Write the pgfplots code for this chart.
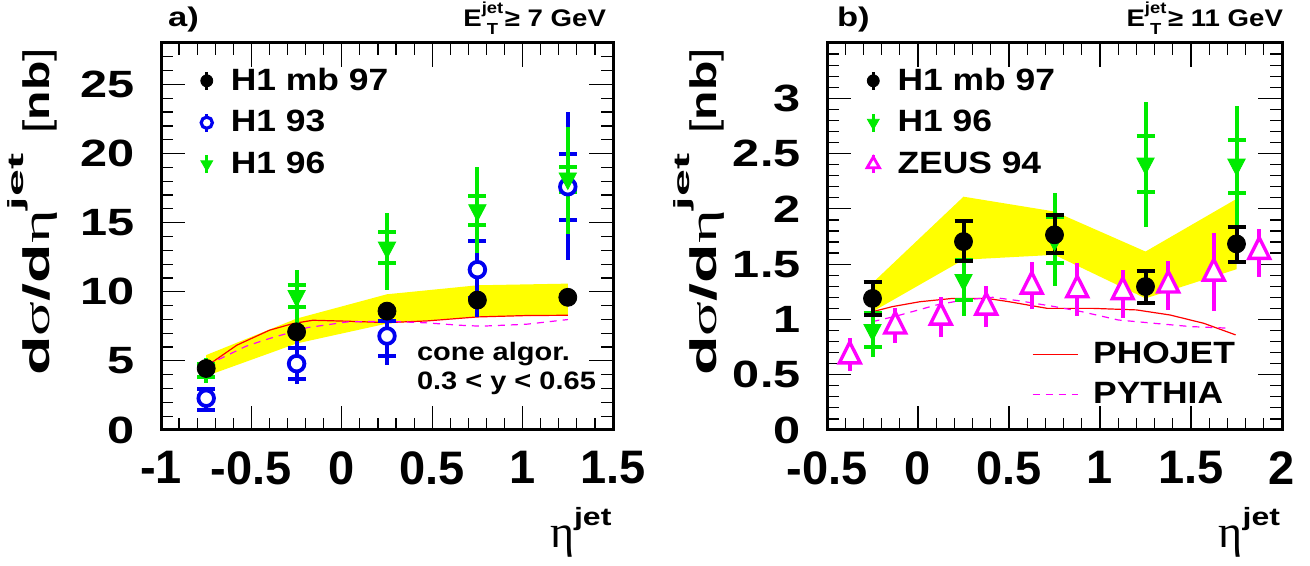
\documentclass[border=0pt]{standalone}
\usepackage{fontspec}
\setmainfont{Liberation Sans}
\newfontfamily\sfA{Liberation Sans}[FakeStretch=1.15]
\newfontfamily\sfB{Liberation Sans}[FakeStretch=1.28]
\newfontfamily\serifR{Liberation Serif}
\usepackage{pgfplots}
\usepackage{pgfplotstable}
\pgfplotsset{compat=1.18}
\definecolor{rgreen}{RGB}{0,235,0}
\definecolor{rblue}{RGB}{0,0,240}
\definecolor{rmag}{RGB}{255,0,255}
\definecolor{ryel}{RGB}{255,255,0}
\definecolor{rred}{RGB}{255,0,0}

\newcommand\xtfont{\bfseries\fontsize{23.5}{23.5}\selectfont}
\newcommand\ytfont{\sfB\bfseries\fontsize{19}{19}\selectfont}
\newcommand\legfont{\sfA\bfseries\fontsize{15.4}{15.4}\selectfont}
\newcommand\txtfont{\sfA\bfseries\fontsize{12.6}{12.6}\selectfont}
\newcommand\ttlfont{\sfA\bfseries\fontsize{12}{12}\selectfont}
\newcommand\ylab{\bfseries\fontsize{18.5}{18.5}\selectfont\scalebox{1.75}[1]{d{\serifR\mdseries σ}/d{\serifR\mdseries η}}\raisebox{13.5pt}{\scalebox{2.2}[1]{\fontsize{11}{11}\selectfont jet}}\hspace{10pt}\scalebox{1.3}[1]{{\mdseries[}nb{\mdseries]}}}
\newcommand\xlab{{\serifR\fontsize{23}{23}\selectfont η}\raisebox{11pt}{\sfB\bfseries\fontsize{12.5}{12.5}\selectfont jet}}
\newcommand\ettl[1]{\ttlfont E\raisebox{-3.8pt}{\fontsize{8}{8}\selectfont\shortstack[c]{jet\\[0.5pt]T}}\hspace{0.8pt}≥ #1 GeV}

\pgfplotsset{
  rootaxis/.style={scale only axis, height=193.5pt, clip=false,
    axis line style={line width=1.5pt},
    tick align=inside, xtick pos=both, ytick pos=both,
    major tick length=12pt, minor tick length=6pt,
    tick style={black, line width=0.6pt},
    xticklabel style={font=\xtfont, inner sep=0pt, yshift=-10.5pt},
    yticklabel style={font=\ytfont, inner sep=0pt, xshift=-13pt, anchor=east},
    legend cell align=left,
    legend style={draw=none, fill=none, inner sep=0pt, outer sep=0pt, font=\legfont,
      row sep=8.5pt, nodes={inner sep=0pt}, /tikz/every odd column/.append style={column sep=9pt}}},
  totbar/.style={only marks, mark=none, forget plot, error bars/.cd, y dir=both, y explicit,
    error mark=none, error bar style={line width=2pt, draw=#1, solid}},
  statbar/.style={only marks, mark=none, forget plot, error bars/.cd, y dir=both, y explicit,
    error mark=-, error bar style={line width=2pt, draw=#1, solid},
    error mark options={rotate=90, mark size=4.5pt, line width=2pt, draw=#1, solid}},
  ptleg/.style={legend image code/.code={%
    \draw[##1, mark=none, line width=1.6pt] (0pt,-4.5pt) -- (0pt,4.5pt);
    \draw[##1] plot coordinates {(0pt,0pt)};}},
  lnleg/.style={legend image code/.code={\draw[##1] (0pt,0pt) -- (22.5pt,0pt);}},
}

% ---------- panel a data ----------
\pgfplotstableread{
x y
-0.75 4.45
-0.25 7.10
0.25 8.60
0.75 9.40
1.25 9.60
}\mbA
\pgfplotstableread{
x y sp sm tp tm
-0.75 2.30 0.70 0.85 0.80 1.00
-0.25 4.80 1.10 1.10 1.70 1.50
0.25 6.80 1.10 1.45 1.50 2.10
0.75 11.60 2.05 2.05 3.40 3.40
1.25 17.60 2.40 2.40 5.40 5.30
}\hnA
\pgfplotstableread{
x y sp sm tp tm
-0.75 4.30 0.50 0.50 0.90 0.90
-0.25 9.70 0.80 0.80 1.90 1.95
0.25 13.20 1.10 1.10 2.50 3.10
0.75 15.90 1.05 1.05 3.10 3.10
1.25 18.20 0.80 1.00 3.70 4.00
}\hsA
% ---------- panel b data ----------
\pgfplotstableread{
x y sp sm
-0.25 1.190 0.152 0.150
0.25 1.704 0.190 0.180
0.75 1.765 0.180 0.165
1.25 1.297 0.143 0.150
1.75 1.683 0.157 0.160
}\mbB
\pgfplotstableread{
x y sp sm tp tm
-0.25 0.905 0.15 0.15 0.25 0.245
0.25 1.357 0.18 0.18 0.33 0.33
0.75 1.720 0.21 0.21 0.42 0.42
1.25 2.410 0.25 0.26 0.56 0.57
1.75 2.400 0.22 0.26 0.53 0.55
}\hsB
\pgfplotstableread{
x y tp tm
-0.375 0.670 0.160 0.140
-0.125 0.940 0.160 0.155
0.125 1.020 0.186 0.175
0.375 1.110 0.190 0.175
0.625 1.300 0.220 0.210
0.875 1.267 0.240 0.237
1.125 1.250 0.200 0.240
1.375 1.310 0.220 0.224
1.625 1.418 0.360 0.340
1.875 1.614 0.200 0.227
}\zsB

\begin{document}
\begin{tikzpicture}
\useasboundingbox (0,0) rectangle (655pt,283pt);
% ================= panel a =================
\begin{axis}[rootaxis, at={(80.5pt,68pt)}, anchor=south west, width=226pt,
  xmin=-1, xmax=1.5, ymin=0, ymax=28,
  xtick={-1,-0.5,0,0.5,1,1.5}, xticklabels={-1,-0.5,0,0.5,1,1.5},
  minor xtick={-0.9,-0.8,...,1.45},
  ytick={0,5,10,15,20,25}, yticklabels={0,5,10,15,20,25},
  minor ytick={1,2,...,27},
  legend style={at={(rel axis cs:0.088,0.935)}, anchor=north west}]
\addlegendimage{ptleg, black, mark=*, mark size=3pt}
\addlegendentry{H1 mb 97}
\addlegendimage{ptleg, rblue, mark=*, mark size=2.8pt, mark options={fill=white, draw=rblue, line width=1.6pt}}
\addlegendentry{H1 93}
\addlegendimage{ptleg, rgreen, mark=triangle*, mark size=3.4pt, mark options={rotate=180}}
\addlegendentry{H1 96}
% band
\addplot[fill=ryel, draw=none, forget plot] coordinates {(-0.75,5.42) (-0.25,8.06) (0.25,9.82) (0.75,10.47) (1.25,10.59) (1.25,8.28) (0.75,8.2) (0.25,7.7) (-0.25,6.26) (-0.75,3.9)} -- cycle;
% PHOJET
\addplot[rred, line width=0.6pt, mark=none, forget plot] coordinates {(-0.75,4.6) (-0.58,6.14) (-0.40,7.22) (-0.27,7.7) (-0.16,7.94) (0.03,7.87) (0.25,7.77) (0.47,7.89) (0.75,8.18) (1.02,8.28) (1.25,8.3)};
% PYTHIA
\addplot[rmag, line width=0.6pt, dash pattern=on 3.5pt off 3pt, mark=none, forget plot] coordinates {(-0.75,4.75) (-0.67,5.17) (-0.53,6.06) (-0.40,6.62) (-0.19,7.41) (0.03,7.82) (0.25,7.87) (0.47,7.75) (0.65,7.58) (0.77,7.51) (1.02,7.65) (1.25,7.99)};
% H1 93
\addplot[totbar=rblue] table[x=x, y=y, y error plus=tp, y error minus=tm] {\hnA};
\addplot[statbar=rblue] table[x=x, y=y, y error plus=sp, y error minus=sm] {\hnA};
\addplot[only marks, forget plot, mark=*, mark size=3.9pt, mark options={fill=white, draw=rblue, line width=1.9pt}] table[x=x, y=y] {\hnA};
% H1 96
\addplot[totbar=rgreen] table[x=x, y=y, y error plus=tp, y error minus=tm] {\hsA};
\addplot[statbar=rgreen] table[x=x, y=y, y error plus=sp, y error minus=sm] {\hsA};
\addplot[only marks, forget plot, mark=triangle*, mark size=5pt, mark options={fill=rgreen, draw=rgreen, rotate=180, yscale=1.1}] table[x=x, y=y] {\hsA};
% H1 mb 97
\addplot[only marks, forget plot, mark=*, mark size=4.5pt, mark options={fill=black, draw=black}] table[x=x, y=y] {\mbA};
% texts
\node[font=\txtfont, anchor=base west] at (axis cs:0.377,5.0) {cone algor.};
\node[font=\txtfont, anchor=base west] at (axis cs:0.377,2.9) {0.3 < y < 0.65};
\node[rotate=90, anchor=base east] at ([xshift=-55.5pt, yshift=1pt]rel axis cs:0,1) {\ylab};
\node[anchor=base west] at ([yshift=-59pt]rel axis cs:0.845,0) {\xlab};
\node[anchor=base west, font=\sfB\bfseries\fontsize{13.5}{13.5}\selectfont] at ([yshift=8pt]rel axis cs:0,1) {a)};
\node[anchor=base east] at ([yshift=8pt]rel axis cs:1,1) {\ettl{7}};
\end{axis}

% ================= panel b =================
\begin{axis}[rootaxis, at={(413.5pt,68pt)}, anchor=south west, width=227.5pt,
  xmin=-0.5, xmax=2, ymin=0, ymax=3.5,
  xtick={-0.5,0,0.5,1,1.5,2}, xticklabels={-0.5,0,0.5,1,1.5,2},
  minor xtick={-0.4,-0.3,...,1.95},
  ytick={0,0.5,1,1.5,2,2.5,3}, yticklabels={0,0.5,1,1.5,2,2.5,3},
  minor ytick={0.1,0.2,...,3.45},
  legend style={at={(rel axis cs:0.088,0.935)}, anchor=north west}]
\addlegendimage{ptleg, black, mark=*, mark size=3pt}
\addlegendentry{H1 mb 97}
\addlegendimage{ptleg, rgreen, mark=triangle*, mark size=3.4pt, mark options={rotate=180}}
\addlegendentry{H1 96}
\addlegendimage{ptleg, rmag, mark=triangle*, mark size=3.6pt, mark options={fill=white, draw=rmag, line width=1.4pt}}
\addlegendentry{ZEUS 94}
% band
\addplot[fill=ryel, draw=none, forget plot] coordinates {(-0.25,1.33) (0.25,2.11) (0.75,1.976) (1.25,1.614) (1.75,2.09) (1.75,1.454) (1.25,1.19) (0.75,1.584) (0.25,1.54) (-0.25,1.07)} -- cycle;
% PHOJET
\addplot[rred, line width=0.6pt, mark=none, forget plot] coordinates {(-0.25,1.07) (-0.14,1.116) (0.01,1.16) (0.19,1.19) (0.38,1.19) (0.5,1.16) (0.71,1.10) (0.96,1.10) (1.2,1.086) (1.385,1.04) (1.57,0.965) (1.745,0.86)};
% PYTHIA
\addplot[rmag, line width=0.6pt, dash pattern=on 3.5pt off 3pt, mark=none, forget plot] coordinates {(-0.25,0.98) (-0.12,1.03) (0.1,1.13) (0.25,1.176) (0.41,1.2) (0.55,1.17) (0.75,1.116) (0.9,1.07) (1.1,0.995) (1.33,0.96) (1.5,0.935) (1.72,0.92)};
% ZEUS 94
\addplot[totbar=rmag] table[x=x, y=y, y error plus=tp, y error minus=tm] {\zsB};
\addplot[only marks, forget plot, mark=triangle*, mark size=6pt, mark options={fill=white, draw=rmag, line width=1.7pt, yscale=1.15}] table[x=x, y=y] {\zsB};
% H1 96
\addplot[totbar=rgreen] table[x=x, y=y, y error plus=tp, y error minus=tm] {\hsB};
\addplot[statbar=rgreen] table[x=x, y=y, y error plus=sp, y error minus=sm] {\hsB};
\addplot[only marks, forget plot, mark=triangle*, mark size=5pt, mark options={fill=rgreen, draw=rgreen, rotate=180, yscale=1.1}] table[x=x, y=y] {\hsB};
% H1 mb 97
\addplot[statbar=black] table[x=x, y=y, y error plus=sp, y error minus=sm] {\mbB};
\addplot[only marks, forget plot, mark=*, mark size=4.5pt, mark options={fill=black, draw=black}] table[x=x, y=y] {\mbB};
% texts
\node[rotate=90, anchor=base east] at ([xshift=-55.5pt, yshift=1pt]rel axis cs:0,1) {\ylab};
\node[anchor=base west] at ([yshift=-59pt]rel axis cs:0.845,0) {\xlab};
\node[anchor=base west, font=\sfB\bfseries\fontsize{13.5}{13.5}\selectfont] at ([xshift=1.5pt, yshift=8pt]rel axis cs:0,1) {b)};
\node[anchor=base east] at ([xshift=4pt, yshift=8pt]rel axis cs:1,1) {\ettl{11}};
\end{axis}

% overlay axis for second legend in panel b
\begin{axis}[rootaxis, at={(413.5pt,68pt)}, anchor=south west, width=227.5pt,
  xmin=-0.5, xmax=2, ymin=0, ymax=3.5, hide axis,
  legend style={at={(rel axis cs:0.4505,0.2276)}, anchor=north west, row sep=8pt,
    /tikz/every odd column/.append style={column sep=7.5pt}}]
\addlegendimage{lnleg, rred, line width=0.6pt}
\addlegendentry{PHOJET}
\addlegendimage{lnleg, rmag, line width=0.6pt, dash pattern=on 3.5pt off 3pt}
\addlegendentry{PYTHIA}
\end{axis}
\end{tikzpicture}
\end{document}
